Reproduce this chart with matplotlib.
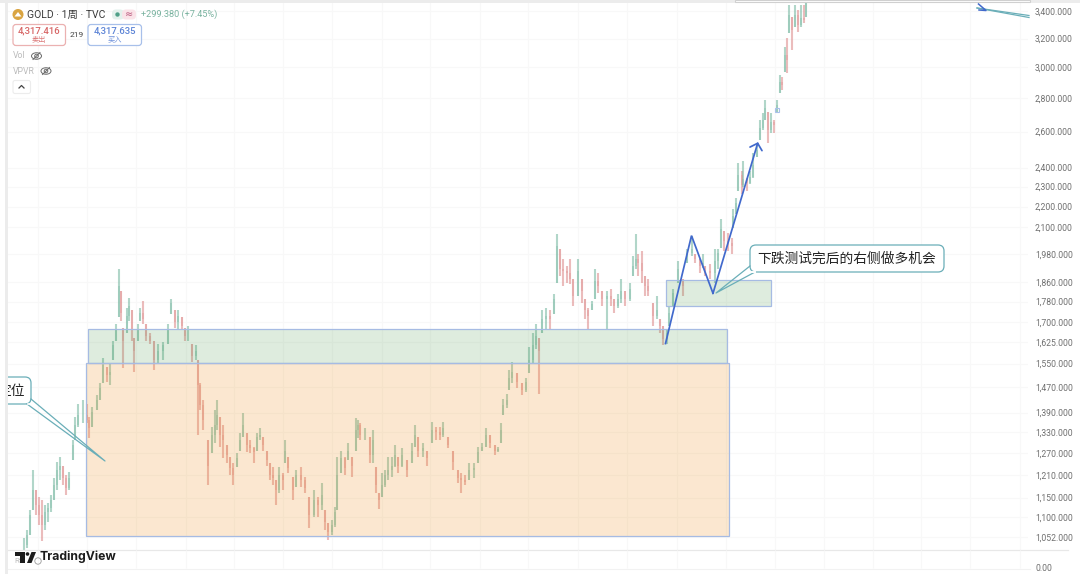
import numpy as np
import matplotlib
matplotlib.use('Agg')
import matplotlib.pyplot as plt
from matplotlib.patches import Rectangle, FancyBboxPatch, Circle, Ellipse, Polygon
from matplotlib.ticker import FixedLocator, FixedFormatter, NullLocator

plt.rcParams['font.family'] = ['Noto Sans CJK SC', 'DejaVu Sans']

# one unit of bar index is about one week on the chart
bar_idx = [24, 27, 30, 33, 36, 39, 42, 45, 48, 51, 54, 57, 60, 63, 66, 69, 73, 75, 78, 83, 87, 89, 92, 97, 100, 103, 107, 110, 113, 116,
           119, 121, 123, 127, 129, 132, 134, 138, 140, 143, 146, 150, 154, 158, 163, 168, 171, 175, 178, 182, 185, 188, 192, 196, 198, 200, 203, 208, 212, 215,
           217, 220, 223, 227, 230, 233, 237, 240, 243, 247, 250, 254, 257, 260, 263, 267, 270, 273, 276, 279, 283, 285, 288, 293, 296, 301, 305, 309, 314, 318,
           322, 325, 328, 332, 335, 337, 341, 345, 348, 352, 356, 358, 360, 365, 370, 373, 376, 379, 382, 385, 388, 392, 395, 398, 402, 407, 412, 415, 418, 423,
           427, 432, 436, 440, 443, 448, 453, 458, 461, 465, 469, 474, 478, 482, 486, 490, 495, 498, 501, 503, 507, 509, 512, 517, 522, 526, 529, 533, 536, 539,
           542, 546, 550, 554, 557, 560, 563, 567, 570, 573, 578, 582, 585, 588, 592, 595, 598, 602, 607, 611, 614, 618, 621, 625, 630, 633, 636, 638, 642, 645,
           648, 653, 657, 660, 663, 667, 669, 673, 678, 683, 687, 692, 695, 700, 703, 705, 710, 715, 718, 721, 724, 728, 732, 733, 736, 738, 742, 743, 747, 750,
           753, 757, 760, 763, 765, 768, 771, 774, 777, 780, 782, 785, 787, 789, 792, 795, 798, 801, 804, 806]

highs = [1051, 1069, 1118, 1222, 1169, 1151, 1143, 1130, 1135, 1156, 1200, 1244, 1260, 1235, 1208, 1216, 1306, 1375, 1418, 1428, 1418, 1375, 1406, 1444, 1483, 1571, 1537, 1551, 1632, 1695,
         1915, 1824, 1680, 1756, 1796, 1745, 1643, 1695, 1756, 1784, 1695, 1661, 1632, 1621, 1625, 1695, 1792, 1745, 1745, 1718, 1680, 1687, 1621, 1614, 1561, 1483, 1428, 1306, 1345, 1397,
         1428, 1375, 1351, 1292, 1258, 1241, 1269, 1327, 1387, 1327, 1306, 1286, 1327, 1342, 1315, 1277, 1241, 1230, 1195, 1230, 1214, 1306, 1258, 1203, 1222, 1230, 1203, 1151, 1169, 1151,
         1187, 1118, 1086, 1093, 1125, 1258, 1277, 1258, 1298, 1258, 1372, 1366, 1357, 1342, 1315, 1336, 1230, 1161, 1214, 1222, 1258, 1258, 1292, 1258, 1283, 1249, 1298, 1351, 1315, 1298,
         1277, 1360, 1345, 1345, 1360, 1315, 1277, 1222, 1214, 1208, 1241, 1241, 1286, 1298, 1342, 1321, 1292, 1286, 1357, 1434, 1450, 1527, 1554, 1517, 1483, 1500, 1607, 1658, 1695, 1643,
         1745, 1756, 1745, 1812, 2071, 2003, 1959, 1928, 1959, 1873, 1959, 1873, 1792, 1753, 1784, 1915, 1899, 1824, 1824, 1832, 1792, 1812, 1873, 1824, 1857, 1972, 2071, 1981, 1994, 1886,
         1873, 1776, 1804, 1714, 1687, 1676, 1764, 1832, 1950, 1873, 2003, 2062, 1981, 1959, 1981, 1928, 1937, 2003, 2003, 2142, 2085, 2074, 2053, 2190, 2240, 2422, 2384, 2438, 2347, 2384,
         2477, 2533, 2666, 2708, 2787, 2714, 2708, 2666, 2787, 2948, 2935, 3138, 3202, 3449, 3357, 3449, 3410, 3449, 3449, 3487]

lows = [1019, 1027, 1057, 1118, 1105, 1081, 1044, 1069, 1088, 1113, 1143, 1169, 1195, 1182, 1156, 1169, 1249, 1306, 1345, 1357, 1357, 1312, 1345, 1397, 1428, 1483, 1487, 1477, 1561, 1632,
        1718, 1706, 1534, 1658, 1706, 1632, 1520, 1632, 1706, 1695, 1632, 1621, 1527, 1551, 1561, 1621, 1733, 1680, 1669, 1669, 1632, 1632, 1554, 1561, 1321, 1397, 1336, 1182, 1269, 1298,
        1336, 1286, 1255, 1241, 1208, 1182, 1230, 1277, 1315, 1272, 1269, 1241, 1277, 1306, 1277, 1235, 1195, 1182, 1130, 1161, 1169, 1241, 1214, 1143, 1177, 1177, 1161, 1074, 1100, 1100,
        1118, 1069, 1046, 1057, 1076, 1118, 1214, 1208, 1249, 1203, 1277, 1312, 1306, 1306, 1241, 1241, 1161, 1120, 1151, 1177, 1195, 1203, 1230, 1214, 1230, 1203, 1241, 1286, 1258, 1258,
        1235, 1298, 1306, 1306, 1315, 1283, 1222, 1187, 1161, 1182, 1195, 1200, 1241, 1277, 1286, 1283, 1263, 1272, 1298, 1381, 1403, 1460, 1483, 1467, 1444, 1454, 1517, 1551, 1603, 1450,
        1658, 1669, 1676, 1733, 1857, 1886, 1844, 1857, 1853, 1764, 1804, 1776, 1714, 1676, 1745, 1792, 1816, 1764, 1676, 1764, 1737, 1753, 1776, 1764, 1784, 1886, 1915, 1886, 1857, 1804,
        1804, 1687, 1714, 1661, 1614, 1621, 1687, 1764, 1857, 1804, 1941, 1972, 1941, 1899, 1920, 1886, 1873, 1857, 1915, 2007, 1994, 1994, 1981, 2099, 2166, 2280, 2265, 2296, 2280, 2316,
        2347, 2455, 2550, 2607, 2666, 2533, 2590, 2590, 2708, 2832, 2851, 2968, 2961, 3238, 3117, 3282, 3245, 3282, 3312, 3357]

closes = [1034, 1057, 1105, 1169, 1130, 1105, 1081, 1113, 1123, 1143, 1182, 1222, 1235, 1200, 1174, 1200, 1292, 1351, 1381, 1381, 1366, 1342, 1391, 1428, 1467, 1544, 1510, 1520, 1614, 1676,
          1844, 1737, 1632, 1725, 1764, 1669, 1596, 1676, 1737, 1714, 1650, 1632, 1561, 1596, 1614, 1676, 1776, 1699, 1725, 1687, 1650, 1650, 1578, 1596, 1477, 1412, 1366, 1235, 1321, 1351,
          1381, 1321, 1306, 1263, 1227, 1208, 1255, 1306, 1351, 1292, 1283, 1272, 1315, 1321, 1292, 1249, 1208, 1200, 1169, 1208, 1195, 1277, 1227, 1169, 1208, 1195, 1174, 1105, 1143, 1130,
          1156, 1088, 1064, 1081, 1113, 1208, 1255, 1227, 1277, 1235, 1336, 1351, 1321, 1321, 1263, 1306, 1182, 1143, 1182, 1208, 1222, 1235, 1263, 1235, 1263, 1222, 1277, 1321, 1277, 1283,
          1255, 1336, 1330, 1321, 1342, 1292, 1244, 1200, 1195, 1190, 1222, 1227, 1272, 1286, 1321, 1300, 1277, 1280, 1336, 1412, 1428, 1500, 1520, 1487, 1460, 1487, 1561, 1614, 1650, 1596,
          1714, 1725, 1714, 1792, 2016, 1915, 1907, 1899, 1873, 1804, 1907, 1824, 1745, 1725, 1772, 1865, 1844, 1792, 1804, 1792, 1764, 1792, 1824, 1792, 1832, 1928, 1959, 1941, 1907, 1844,
          1824, 1725, 1745, 1687, 1639, 1661, 1737, 1816, 1915, 1844, 1985, 2003, 1959, 1928, 1941, 1907, 1899, 1950, 1985, 2094, 2039, 2030, 2016, 2156, 2220, 2358, 2306, 2342, 2321, 2352,
          2411, 2493, 2619, 2666, 2738, 2607, 2654, 2636, 2757, 2902, 2883, 3083, 3049, 3372, 3260, 3372, 3297, 3349, 3334, 3470]

y_ticks = [1052, 1100, 1150, 1210, 1270, 1330, 1390, 1470, 1550, 1625, 1700, 1780, 1860, 1980, 2100, 2200, 2300, 2400, 2600, 2800, 3000, 3200, 3400]
y_labels = ['1,052.000', '1,100.000', '1,150.000', '1,210.000', '1,270.000', '1,330.000', '1,390.000', '1,470.000', '1,550.000', '1,625.000', '1,700.000', '1,780.000',
            '1,860.000', '1,980.000', '2,100.000', '2,200.000', '2,300.000', '2,400.000', '2,600.000', '2,800.000', '3,000.000', '3,200.000', '3,400.000']
x_grid = [38, 87, 136, 186, 234, 283, 332, 382, 430, 480, 528, 578, 627, 677, 726, 775, 824, 873, 921, 970, 1020]

orange_zone = [85.5, 729, 1055, 1553]
green_zone = [87.5, 727, 1553, 1673]
small_zone = [665.5, 770.5, 1764, 1869]
swing_x = [665.5, 691.5, 713]
swing_y = [1621, 2062, 1813]
swing_end = [758, 2540]
swing_mark = [777, 2726]

fig = plt.figure(figsize=(10.8, 5.74), dpi=100)
ax = fig.add_axes([8 / 1080, 24 / 574, 1020 / 1080, 550 / 574])
ax.set_yscale('log')
ax.set_xlim(8, 1028)
ax.set_ylim(1023, 3487)
ax.xaxis.set_major_locator(FixedLocator(x_grid))
ax.yaxis.set_major_locator(FixedLocator(y_ticks))
ax.yaxis.set_major_formatter(FixedFormatter(y_labels))
ax.yaxis.set_minor_locator(NullLocator())
ax.yaxis.tick_right()
ax.tick_params(axis='y', length=0, pad=5, labelsize=6.2, labelcolor='#707070', labelfontfamily='Roboto')
ax.tick_params(axis='x', length=0, labelbottom=False)
ax.grid(True, color='#f8f8f8', lw=0.8)
ax.set_axisbelow(True)
for s in ax.spines.values():
    s.set_visible(False)

# candles, open is taken as last close
closes_a = np.array(closes, dtype=float)
opens_a = np.r_[closes_a[0], closes_a[:-1]]
opens_a = np.clip(opens_a, lows, highs)
up = closes_a >= opens_a
cols = np.where(up, '#7dbba6', '#df9090')
ax.vlines(bar_idx, lows, highs, colors=cols, lw=1.5, alpha=0.6, zorder=2)
ax.bar(bar_idx, np.abs(closes_a - opens_a), bottom=np.minimum(closes_a, opens_a), width=2.0, color=cols, alpha=0.35, lw=0, zorder=2)

# zones
for z, fc, a in [(orange_zone, '#ed9629', 0.22), (green_zone, '#5aa05a', 0.2), (small_zone, '#5aa05a', 0.2)]:
    ax.add_patch(Rectangle((z[0], z[2]), z[1] - z[0], z[3] - z[2], facecolor=fc, alpha=a, lw=0, zorder=3))
    ax.add_patch(Rectangle((z[0], z[2]), z[1] - z[0], z[3] - z[2], fill=False, edgecolor='#a6bbe3', lw=0.9, zorder=3))

ax.plot(swing_x, swing_y, color='#4169cc', lw=1.25, zorder=5, solid_joinstyle='miter')
ax.annotate('', xy=swing_end, xytext=(swing_x[-1], swing_y[-1]), zorder=5,
            arrowprops=dict(arrowstyle='->,head_length=0.42,head_width=0.45', color='#4169cc', lw=1.25, shrinkA=0, shrinkB=0))
ax.plot(swing_mark[0], swing_mark[1], marker='s', ms=3, mfc='none', mec='#a9c0ea', mew=0.8, zorder=5)

# interface parts, drawn in picture pixels
ui = fig.add_axes([0, 0, 1, 1], facecolor='none')
ui.set_xlim(0, 1080)
ui.set_ylim(574, 0)
ui.axis('off')
left_clip = Rectangle((8, 0), 1072, 574, transform=ui.transData)

ui.add_patch(Rectangle((5, 0), 2.5, 574, fc='#ececec', lw=0))
ui.add_patch(Rectangle((0, 0), 1080, 2.5, fc='#ececec', lw=0))
ui.add_patch(Rectangle((735, 0), 295, 2, fc='white', ec='#d0d0d0', lw=0.8, zorder=6))
ui.plot([8, 1068], [550, 550], color='#e8e8e8', lw=0.9)
ui.plot([8, 1030], [568.5, 568.5], color='#f2f2f2', lw=0.8)
ui.vlines(x_grid, 550, 568, color='#f8f8f8', lw=0.8)
ui.text(1035, 568.5, '0.00', fontsize=6.2, family='Roboto', color='#707070', va='center')

# header
ui.add_patch(Circle((18, 14.5), 5.5, fc='#d9a441', lw=0))
ui.add_patch(Polygon([[14.5, 16.5], [18, 12], [21.5, 16.5]], fc='white', lw=0))
ui.text(27, 14.5, 'GOLD · 1周 · TVC', fontsize=7.5, family=['Roboto', 'Noto Sans CJK SC'], color='#3a3a3a', va='center')
ui.add_patch(FancyBboxPatch((112, 9.5), 12, 10, boxstyle='round,pad=0,rounding_size=4', fc='#e3f1ec', lw=0))
ui.add_patch(FancyBboxPatch((122, 9.5), 14, 10, boxstyle='round,pad=0,rounding_size=4', fc='#fae3e8', lw=0))
ui.add_patch(Circle((117.5, 14.5), 2.2, fc='#4fa088', lw=0))
ui.text(129, 14.5, '≈', fontsize=7, family='DejaVu Sans', color='#b8557a', ha='center', va='center')
ui.text(141, 14.5, '+299.380 (+7.45%)', fontsize=6.6, family='Roboto', color='#7ab3a0', va='center')

ui.add_patch(FancyBboxPatch((13, 24.5), 52.5, 21, boxstyle='round,pad=0,rounding_size=3', fc='white', ec='#ebb1b1', lw=0.9))
ui.text(39, 31, '4,317.416', fontsize=6.8, family='Roboto', fontweight='medium', color='#d76464', ha='center', va='center')
ui.text(39, 40, '卖出', fontsize=5.2, color='#dc7a7a', ha='center', va='center')
ui.text(77, 35, '219', fontsize=6, family='Roboto', color='#444444', ha='center', va='center')
ui.add_patch(FancyBboxPatch((88, 24.5), 53.5, 21, boxstyle='round,pad=0,rounding_size=3', fc='white', ec='#a8c0ea', lw=0.9))
ui.text(115, 31, '4,317.635', fontsize=6.8, family='Roboto', fontweight='medium', color='#5b83d6', ha='center', va='center')
ui.text(115, 40, '买入', fontsize=5.2, color='#6d90da', ha='center', va='center')

ui.text(13, 56, 'Vol', fontsize=6.2, family='Roboto', color='#bcbcbc', va='center')
ui.text(13, 71, 'VPVR', fontsize=6.2, family='Roboto', color='#bcbcbc', va='center')
for ex, ey in [(36.5, 56), (46, 71)]:
    ui.add_patch(Ellipse((ex, ey), 10, 6.5, fc='none', ec='#6a6a6a', lw=0.7))
    ui.add_patch(Circle((ex, ey), 1.8, fc='none', ec='#6a6a6a', lw=0.7))
    ui.plot([ex - 3.5, ex + 3.5], [ey + 3.5, ey - 3.5], color='#6a6a6a', lw=0.7)
ui.add_patch(FancyBboxPatch((13, 80.5), 17.5, 13, boxstyle='round,pad=0,rounding_size=2', fc='white', ec='#ececec', lw=0.8))
ui.plot([19, 21.5, 24], [88, 85.5, 88], color='#444444', lw=0.9)

# callouts
teal = '#6aaeb8'
ui.add_patch(FancyBboxPatch((750, 245), 194, 27, boxstyle='round,pad=0,rounding_size=6', fc='white', ec=teal, lw=0.9, zorder=6))
ui.plot([750, 716, 755], [266, 293, 272], color=teal, lw=0.9, zorder=6)
ui.plot([751, 754.5], [271.5, 271.5], color='white', lw=1.4, zorder=6)
ui.text(847, 258.5, '下跌测试完后的右侧做多机会', fontsize=9.9, color='#222222', ha='center', va='center', zorder=7)

box = FancyBboxPatch((-40, 377), 71, 27, boxstyle='round,pad=0,rounding_size=6', fc='white', ec=teal, lw=0.9, zorder=6)
ui.add_patch(box)
box.set_clip_path(left_clip)
ui.plot([31, 105, 27], [399, 461, 404], color=teal, lw=0.9, zorder=6)
ui.plot([27.5, 30.5], [403.5, 403.5], color='white', lw=1.2, zorder=6)
t = ui.text(25, 391, '定位', fontsize=9.9, color='#222222', ha='right', va='center', zorder=7, clip_on=True)
t.set_clip_path(left_clip)

ui.plot([977, 1029], [8, 17.5], color=teal, lw=0.9, zorder=5)
ui.plot([977, 1029], [8, 15.5], color=teal, lw=0.9, zorder=5)
ui.plot([978.5, 986, 979], [4, 10.5, 10], color='#4169cc', lw=1.1, zorder=5)

# logo
ui.text(14.5, 561, 'RSI', fontsize=5.6, family='Roboto', color='#bdbdbd', va='center', zorder=6)
ui.add_patch(Polygon([[15, 552], [25, 552], [25, 563], [20, 563], [20, 556], [15, 556]], fc='#1c1c1c', lw=0, zorder=7))
ui.add_patch(Circle((27.5, 554), 1.8, fc='#1c1c1c', lw=0, zorder=7))
ui.add_patch(Polygon([[27, 563], [31.5, 552], [36, 552], [31.5, 563]], fc='#1c1c1c', lw=0, zorder=7))
ui.add_patch(Circle((38, 561), 3.2, fc='none', ec='#999999', lw=0.6, zorder=7))
ui.text(40, 557, 'TradingView', fontsize=8.8, family='Inter', fontweight='bold', color='#1c1c1c', va='center', zorder=7)

fig.savefig('out.png', dpi=100)
